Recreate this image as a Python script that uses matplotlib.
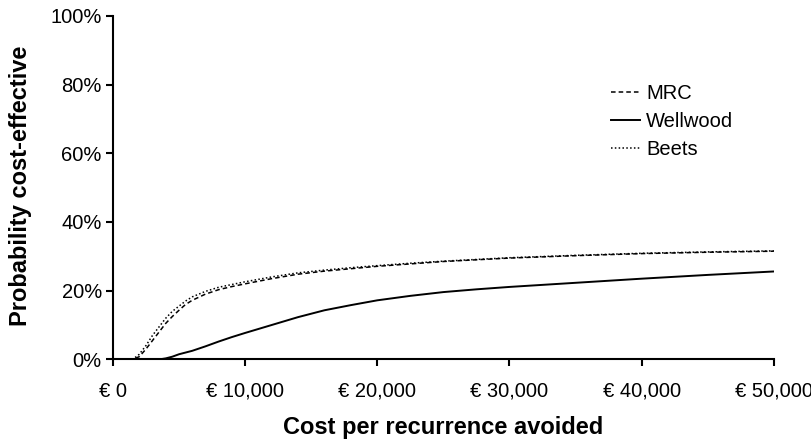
# Cost-effectiveness acceptability curves: MRC vs Wellwood vs Beets
import matplotlib
matplotlib.use("Agg")
import matplotlib.pyplot as plt
from matplotlib.ticker import FuncFormatter

plt.rcParams["font.family"] = ["Liberation Sans", "DejaVu Sans"]

# ── DATOS ──────────────────────────────────────────
cost = [0, 1000, 1500, 2000, 2500, 3000, 3500, 4000, 4500, 5000, 5500, 6000,
        7000, 8000, 9000, 10000, 12000, 14000, 16000, 18000, 20000, 22500,
        25000, 27500, 30000, 35000, 40000, 45000, 50000]
mrc = [0, 0, 0, 0.8, 3, 5.5, 8, 10.5, 12.5, 14.3, 16, 17.2,
       19, 20.3, 21.2, 22, 23.5, 24.8, 25.7, 26.4, 27.1, 27.8,
       28.5, 29, 29.5, 30.2, 30.8, 31.2, 31.5]
wellwood = [0, 0, 0, 0, 0, 0, 0, 0.3, 0.8, 1.5, 2.0, 2.5,
            3.8, 5.2, 6.5, 7.7, 10, 12.3, 14.3, 15.8, 17.2, 18.5,
            19.6, 20.4, 21.1, 22.3, 23.5, 24.6, 25.6]
beets = [0, 0, 0, 1.5, 4, 7, 9.5, 12, 14, 15.5, 17, 18.2,
         19.8, 21, 21.8, 22.6, 24, 25.2, 26.0, 26.7, 27.3, 28,
         28.6, 29.1, 29.6, 30.3, 30.9, 31.3, 31.6]

x_ticks = [0, 10000, 20000, 30000, 40000, 50000]
y_ticks = [0, 20, 40, 60, 80, 100]

# ── GRAFICO ───────────────────────────────────────
fig = plt.figure(figsize=(8.12, 4.41), dpi=100)
ax = fig.add_axes([0.139, 0.185, 0.814, 0.779])

ax.plot(cost, mrc, color="black", linestyle=(0, (3, 2)), linewidth=1.1, label="MRC")
ax.plot(cost, wellwood, color="black", linestyle="-", linewidth=1.4, label="Wellwood")
ax.plot(cost, beets, color="black", linestyle=(0, (1, 1.5)), linewidth=1.1, label="Beets")

ax.set_xlim(0, 50000)
ax.set_ylim(0, 100)
ax.set_xticks(x_ticks)
ax.set_yticks(y_ticks)
ax.xaxis.set_major_formatter(FuncFormatter(lambda v, p: f"€ {int(v):,}"))
ax.yaxis.set_major_formatter(FuncFormatter(lambda v, p: f"{int(v)}%"))

for s in ["top", "right"]:
    ax.spines[s].set_visible(False)
for s in ["left", "bottom"]:
    ax.spines[s].set_linewidth(1.5)

ax.tick_params(axis="both", direction="out", length=5, width=1.5, labelsize=14.5)
ax.tick_params(axis="x", pad=11)
ax.tick_params(axis="y", pad=3)

ax.set_xlabel("Cost per recurrence avoided", fontsize=17, fontweight="bold", labelpad=11)
ax.set_ylabel("Probability cost-effective", fontsize=17, fontweight="bold")
ax.yaxis.set_label_coords(-0.1225, 0.504)

ax.legend(loc="upper left", bbox_to_anchor=(0.726, 0.855), frameon=False,
          fontsize=14.5, handlelength=1.45, handletextpad=0.3, labelspacing=0.45)

fig.savefig("out.png", dpi=100)
